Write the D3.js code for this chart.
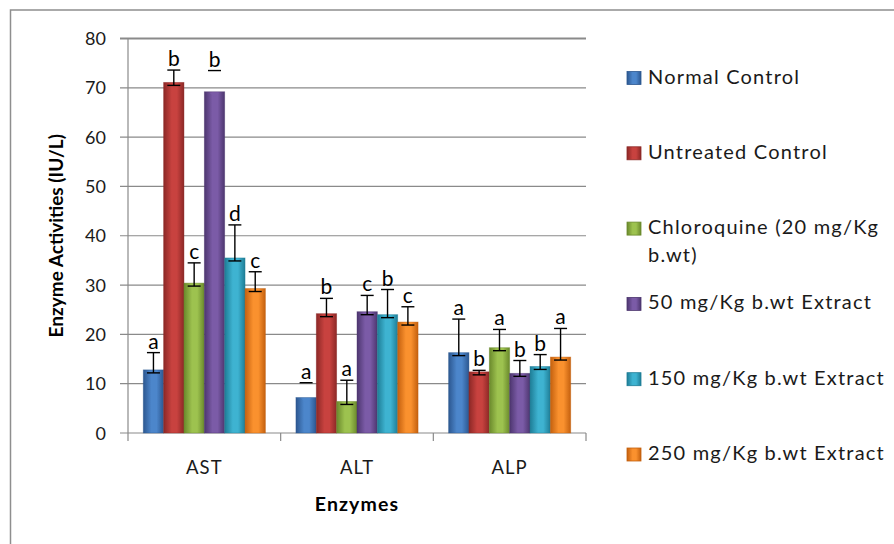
<!DOCTYPE html>
<html>
<head>
<meta charset="utf-8">
<script src="https://cdn.jsdelivr.net/npm/d3@7"></script>
<style>
  body { margin: 0; background: #fff; }
  svg { display: block; font-family: Lato, "Open Sans", sans-serif; }
</style>
</head>
<body>
<svg id="chart" width="894" height="544"></svg>
<script>
// enzyme groups and treatment series
const categories = ["AST", "ALT", "ALP"];
const seriesNames = [
  "Normal Control",
  "Untreated Control",
  "Chloroquine (20 mg/Kg b.wt)",
  "50 mg/Kg b.wt Extract",
  "150 mg/Kg b.wt Extract",
  "250 mg/Kg b.wt Extract"
];

// mean values (IU/L), one entry per enzyme
const normalControl = [12.8, 7.2, 16.3];
const untreatedControl = [71.1, 24.2, 12.4];
const chloroquine = [30.4, 6.4, 17.3];
const extract50 = [69.2, 24.6, 12.1];
const extract150 = [35.5, 24.0, 13.5];
const extract250 = [29.3, 22.5, 15.4];

// upper error values
const normalControlErr = [3.5, 3.0, 6.8];
const untreatedControlErr = [2.5, 3.1, 0.3];
const chloroquineErr = [4.1, 4.3, 3.7];
const extract50Err = [4.3, 3.3, 2.6];
const extract150Err = [6.7, 5.1, 2.4];
const extract250Err = [3.4, 3.1, 5.8];

// significance letters
const normalControlSig = ["a", "a", "a"];
const untreatedControlSig = ["b", "b", "b"];
const chloroquineSig = ["c", "a", "a"];
const extract50Sig = ["b", "c", "b"];
const extract150Sig = ["d", "b", "b"];
const extract250Sig = ["c", "c", "a"];

// error bars drawn in the source with only their top cap visible
const capOnly = [["AST", 3], ["ALT", 0]];

const yTicks = [0, 10, 20, 30, 40, 50, 60, 70, 80];

const seriesValues = [normalControl, untreatedControl, chloroquine, extract50, extract150, extract250];
const seriesErrors = [normalControlErr, untreatedControlErr, chloroquineErr, extract50Err, extract150Err, extract250Err];
const seriesSig = [normalControlSig, untreatedControlSig, chloroquineSig, extract50Sig, extract150Sig, extract250Sig];

const colors = [
  ["#2c5790", "#4c86cb"],
  ["#8c2826", "#c8423f"],
  ["#6a892c", "#9dc24f"],
  ["#4d366f", "#7b5ba7"],
  ["#1e7d96", "#3eb3d1"],
  ["#c4600e", "#fa912e"]
];

const svg = d3.select("#chart");
const margin = { top: 38.5, bottom: 433, left: 128, right: 586 };

const rows = [];
categories.forEach((cat, ci) => {
  seriesNames.forEach((name, si) => {
    rows.push({
      cat, si, name,
      value: seriesValues[si][ci],
      err: seriesErrors[si][ci],
      sig: seriesSig[si][ci],
      capOnly: capOnly.some(d => d[0] === cat && d[1] === si)
    });
  });
});

const x0 = d3.scaleBand()
  .domain(categories)
  .range([margin.left, margin.right])
  .paddingInner(0)
  .paddingOuter(0);

const x1 = d3.scaleBand()
  .domain(d3.range(seriesNames.length))
  .range([0, x0.bandwidth()])
  .paddingInner(0)
  .paddingOuter(0.75);

const y = d3.scaleLinear()
  .domain([0, 80])
  .range([margin.bottom, margin.top]);

// gradients
const defs = svg.append("defs");
colors.forEach((c, i) => {
  const g = defs.append("linearGradient")
    .attr("id", "grad" + i)
    .attr("x1", "0%").attr("x2", "100%").attr("y1", "0%").attr("y2", "0%");
  g.append("stop").attr("offset", "0%").attr("stop-color", c[0]);
  g.append("stop").attr("offset", "40%").attr("stop-color", c[1]);
  g.append("stop").attr("offset", "65%").attr("stop-color", c[1]);
  g.append("stop").attr("offset", "100%").attr("stop-color", c[0]);
});

// chart frame
svg.append("rect")
  .attr("x", 10.5).attr("y", 10)
  .attr("width", 1000).attr("height", 1000)
  .attr("fill", "none")
  .attr("stroke", "#8e8e8e")
  .attr("stroke-width", 1.5);

// gridlines
svg.append("g")
  .selectAll("line")
  .data(yTicks)
  .join("line")
  .attr("x1", 120)
  .attr("x2", margin.right)
  .attr("y1", d => y(d))
  .attr("y2", d => y(d))
  .attr("stroke", "#8a8a8a")
  .attr("stroke-width", d => d === 80 ? 1.8 : 1.2);

// y axis line
svg.append("line")
  .attr("x1", margin.left).attr("x2", margin.left)
  .attr("y1", margin.top).attr("y2", margin.bottom)
  .attr("stroke", "#8a8a8a").attr("stroke-width", 1.2);

// y tick labels
svg.append("g")
  .selectAll("text")
  .data(yTicks)
  .join("text")
  .attr("x", 106)
  .attr("y", d => y(d) + 6.5)
  .attr("text-anchor", "end")
  .attr("font-size", 18)
  .attr("fill", "#1a1a1a")
  .text(d => d);

// x axis category separators
const sepX = categories.map(c => x0(c)).concat([margin.right]);
svg.append("g")
  .selectAll("line")
  .data(sepX)
  .join("line")
  .attr("x1", d => d).attr("x2", d => d)
  .attr("y1", margin.bottom).attr("y2", margin.bottom + 8)
  .attr("stroke", "#8a8a8a").attr("stroke-width", 1.2);

// bars
const bars = svg.append("g");
bars.selectAll("rect")
  .data(rows)
  .join("rect")
  .attr("x", d => x0(d.cat) + x1(d.si))
  .attr("y", d => y(d.value))
  .attr("width", x1.bandwidth())
  .attr("height", d => y(0) - y(d.value))
  .attr("fill", d => `url(#grad${d.si})`)
  .attr("stroke", d => colors[d.si][0])
  .attr("stroke-opacity", 0.5)
  .attr("stroke-width", 0.8);

// light top bevel on each bar
bars.selectAll("path.bevel")
  .data(rows)
  .join("path")
  .attr("class", "bevel")
  .attr("d", d => {
    const cx = x0(d.cat) + x1(d.si) + x1.bandwidth() / 2;
    const ty = y(d.value);
    return `M${cx - 5},${ty + 1}L${cx + 5},${ty + 1}L${cx},${ty + 5}Z`;
  })
  .attr("fill", d => colors[d.si][1])
  .attr("opacity", 0.9);

// error bars
const errG = svg.append("g")
  .attr("stroke", "#000")
  .attr("stroke-width", 1.4);

rows.forEach(d => {
  const cx = x0(d.cat) + x1(d.si) + x1.bandwidth() / 2;
  const yLow = y(d.value) + 3;
  const yTop = y(d.value + d.err);
  if (!d.capOnly) {
    errG.append("line")
      .attr("x1", cx).attr("x2", cx)
      .attr("y1", yLow).attr("y2", yTop);
    errG.append("line")
      .attr("x1", cx - 6.5).attr("x2", cx + 6.5)
      .attr("y1", yLow).attr("y2", yLow);
  }
  errG.append("line")
    .attr("x1", cx - 6.5).attr("x2", cx + 6.5)
    .attr("y1", yTop).attr("y2", yTop);
});

// significance letters
svg.append("g")
  .selectAll("text")
  .data(rows)
  .join("text")
  .attr("x", d => x0(d.cat) + x1(d.si) + x1.bandwidth() / 2)
  .attr("y", d => y(d.value + d.err) - 4)
  .attr("text-anchor", "middle")
  .attr("font-size", 21)
  .attr("fill", "#000")
  .text(d => d.sig);

// x category labels
svg.append("g")
  .selectAll("text")
  .data(categories)
  .join("text")
  .attr("x", d => x0(d) + x0.bandwidth() / 2)
  .attr("y", 474)
  .attr("text-anchor", "middle")
  .attr("font-size", 18.5)
  .attr("letter-spacing", 1)
  .attr("fill", "#1a1a1a")
  .text(d => d);

// axis titles
svg.append("text")
  .attr("x", (margin.left + margin.right) / 2)
  .attr("y", 511)
  .attr("text-anchor", "middle")
  .attr("font-size", 19.5)
  .attr("letter-spacing", 1.1)
  .attr("font-weight", "bold")
  .text("Enzymes");

svg.append("text")
  .attr("transform", `translate(63,${(margin.top + margin.bottom) / 2}) rotate(-90)`)
  .attr("text-anchor", "middle")
  .attr("font-size", 19)
  .attr("font-weight", "bold")
  .text("Enzyme Activities (IU/L)");

// legend
const legendY = d3.scaleLinear().domain([0, 5]).range([83.5, 460]);
const legend = svg.append("g");
seriesNames.forEach((name, i) => {
  const by = legendY(i);
  legend.append("rect")
    .attr("x", 627).attr("y", by - 12)
    .attr("width", 14).attr("height", 13)
    .attr("fill", `url(#grad${i})`)
    .attr("stroke", colors[i][0])
    .attr("stroke-width", 0.8);
  const lines = name.startsWith("Chloroquine")
    ? ["Chloroquine (20 mg/Kg", "b.wt)"]
    : [name];
  const t = legend.append("text")
    .attr("x", 648).attr("y", by)
    .attr("font-size", 20)
    .attr("letter-spacing", 1.2)
    .attr("fill", "#1a1a1a");
  lines.forEach((ln, li) => {
    t.append("tspan")
      .attr("x", 648)
      .attr("dy", li === 0 ? 0 : 28)
      .text(ln);
  });
});
</script>
</body>
</html>
